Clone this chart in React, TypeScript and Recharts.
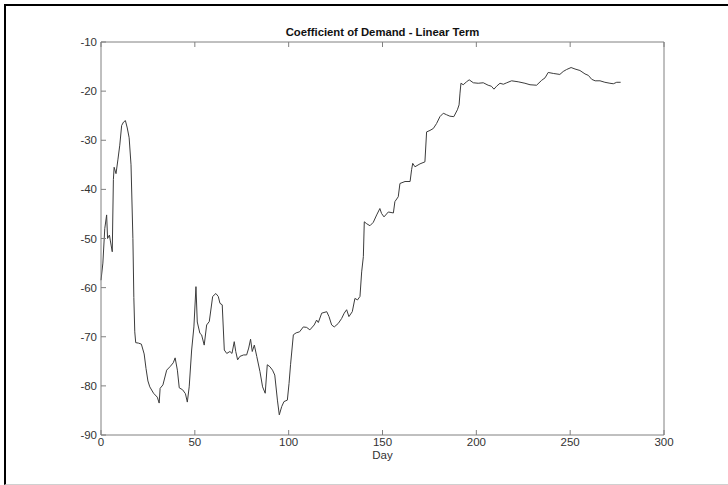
import React from "react";
import { LineChart, Line, XAxis, YAxis, Label } from "recharts";

// day index and fitted linear-term coefficient
const days = [
  0, 1, 2, 3, 3.5, 4.5, 5, 6, 6.6, 7, 8, 9, 10, 11, 12, 13, 14, 15, 16, 17,
  17.5, 18, 18.5, 20, 21.5, 23, 24, 25, 26, 28, 30, 31, 31.5, 33, 35, 37, 38.5,
  39.5, 40.7, 41.7, 43.5, 45, 46, 47, 48.3, 49.5, 50.6, 51.3, 52.7, 53.6, 55,
  56.3, 57.7, 59.5, 61.2, 62.5, 63.4, 64.6, 65.7, 67, 68.7, 69.8, 71, 71.8,
  72.8, 74, 76, 77.6, 78.7, 79.7, 80.6, 81.7, 83, 84.7, 86.1, 87.5, 88.6, 90,
  91.4, 92.6, 94, 95, 96.3, 97.5, 99.3, 100.2, 101, 102.5, 104, 105.8, 107.8,
  109.6, 111.3, 113.6, 114.9, 115.8, 117.6, 120.3, 121.5, 122.9, 124.3, 126.4,
  128.2, 129.6, 130.9, 132.1, 133.9, 135.3, 136.7, 138, 138.9, 139.8, 140.3,
  141.6, 143.3, 145.1, 146.9, 148.6, 149.5, 150.8, 153.1, 155.8, 156.6, 158.4,
  159.3, 162, 164.7, 165.5, 166.1, 167.3, 170, 172.6, 173.5, 175.3, 177.1,
  178.8, 180.6, 182.4, 184.1, 185.9, 188, 189.9, 190.8, 191.3, 191.8, 193,
  194.8, 196.2, 198.4, 201, 203.7, 206.3, 208, 209.4, 210.8, 212.6, 214.4,
  216.2, 218.8, 222.3, 225.9, 228.6, 232.1, 234.8, 236.6, 238.3, 241, 244.5,
  246.3, 248.1, 250.5, 252.6, 255.2, 257.9, 259.7, 261.5, 263.3, 265.9, 268.5,
  271.2, 273, 274.8, 276.9,
];

const coefficient = [
  -58.5, -55, -48, -45.2, -50, -49.3, -50.5, -52.7, -38, -35.5, -36.8, -34,
  -31, -27, -26.3, -26, -27.5, -29.5, -35, -50, -62, -69, -71.2, -71.3, -71.5,
  -73.5, -76.5, -79, -80.2, -81.5, -82.3, -83.5, -80.5, -79.8, -76.8, -76,
  -75.3, -74.3, -76.8, -80.4, -80.8, -81.6, -83.3, -80.2, -72.7, -68, -59.8,
  -67, -69.3, -69.6, -71.7, -67.6, -66.9, -61.8, -61.2, -61.8, -63.2, -63.5,
  -72.7, -73.4, -73, -73.4, -71, -73, -74.7, -74, -73.7, -73.7, -72.3, -70.5,
  -73, -71.7, -74, -77.1, -80.2, -81.5, -75.7, -76.1, -76.8, -77.8, -82.9,
  -85.9, -84.2, -83.2, -82.9, -79.5, -75.7, -69.6, -69.2, -69, -68, -68.1,
  -68.6, -67.6, -66.6, -67.1, -65.2, -64.9, -65.9, -67.6, -68, -67.3, -66.3,
  -65.2, -64.5, -65.9, -64.9, -62.2, -62.5, -61.8, -56.8, -53.7, -46.6, -47,
  -47.4, -46.7, -45.2, -43.9, -44.9, -45.6, -44.6, -44.8, -42.5, -41.5, -38.8,
  -38.4, -38.4, -36, -34.7, -35.4, -34.8, -34.4, -28.3, -28, -27.6, -26.6,
  -25.2, -24.5, -24.8, -25.1, -25.2, -23.8, -22.8, -20.4, -18.4, -18.7, -18.1,
  -17.7, -18.3, -18.4, -18.3, -18.8, -19, -19.6, -19, -18.4, -18.6, -18.3,
  -17.9, -18.1, -18.4, -18.7, -18.8, -17.8, -17.3, -16.2, -16.4, -16.6, -16,
  -15.6, -15.2, -15.5, -15.8, -16.5, -16.8, -17.6, -17.9, -17.9, -18.2, -18.4,
  -18.5, -18.2, -18.2,
];

const xTicks = [0, 50, 100, 150, 200, 250, 300];
const yTicks = [-90, -80, -70, -60, -50, -40, -30, -20, -10];

const data = days.map((day, i) => ({ day, value: coefficient[i] }));

const axisColor = "#808080";
const textColor = "#333";
const blank = () => "";

export default function App() {
  return (
    <div
      style={{
        position: "fixed",
        top: 0,
        left: 0,
        width: 728,
        height: 485,
        background: "#fff",
        fontFamily: "'Liberation Sans', Arial, sans-serif",
      }}
    >
      <div
        style={{
          position: "absolute",
          left: 4,
          top: 4,
          width: 722,
          height: 478,
          borderTop: "2px solid #000",
          borderLeft: "2px solid #000",
          borderBottom: "1px solid #d0d0d0",
        }}
      />
      <div style={{ position: "absolute", left: 0, top: 0 }}>
        <LineChart
          width={728}
          height={485}
          data={data}
          margin={{ top: 0, right: 0, bottom: 0, left: 0 }}
        >
          <XAxis
            xAxisId="bottom"
            dataKey="day"
            type="number"
            domain={[0, 300]}
            ticks={xTicks}
            interval={0}
            height={50}
            tickSize={-5}
            tickMargin={8}
            axisLine={{ stroke: axisColor }}
            tickLine={{ stroke: axisColor }}
            tick={{ fill: textColor, fontSize: 11.5 }}
          >
            <Label
              value="Day"
              position="insideTop"
              offset={16}
              fill={textColor}
              fontSize={11.5}
            />
          </XAxis>
          <XAxis
            xAxisId="top"
            orientation="top"
            dataKey="day"
            type="number"
            domain={[0, 300]}
            ticks={xTicks}
            interval={0}
            height={42}
            tickSize={-5}
            tickFormatter={blank}
            axisLine={{ stroke: axisColor }}
            tickLine={{ stroke: axisColor }}
          >
            <Label
              value="Coefficient of Demand - Linear Term"
              position="insideBottom"
              offset={6}
              fill="#111"
              fontSize={11.3}
              fontWeight="bold"
            />
          </XAxis>
          <YAxis
            yAxisId="left"
            type="number"
            domain={[-90, -10]}
            ticks={yTicks}
            interval={0}
            width={101}
            tickSize={-5}
            tickMargin={9}
            axisLine={{ stroke: axisColor }}
            tickLine={{ stroke: axisColor }}
            tick={{ fill: textColor, fontSize: 11.5 }}
          />
          <YAxis
            yAxisId="right"
            orientation="right"
            type="number"
            domain={[-90, -10]}
            ticks={yTicks}
            interval={0}
            width={64}
            tickSize={-5}
            tickFormatter={blank}
            axisLine={{ stroke: axisColor }}
            tickLine={{ stroke: axisColor }}
          />
          <Line
            xAxisId="bottom"
            yAxisId="left"
            type="linear"
            dataKey="value"
            stroke="#3c3c3c"
            strokeWidth={1}
            dot={false}
            isAnimationActive={false}
          />
        </LineChart>
      </div>
    </div>
  );
}
